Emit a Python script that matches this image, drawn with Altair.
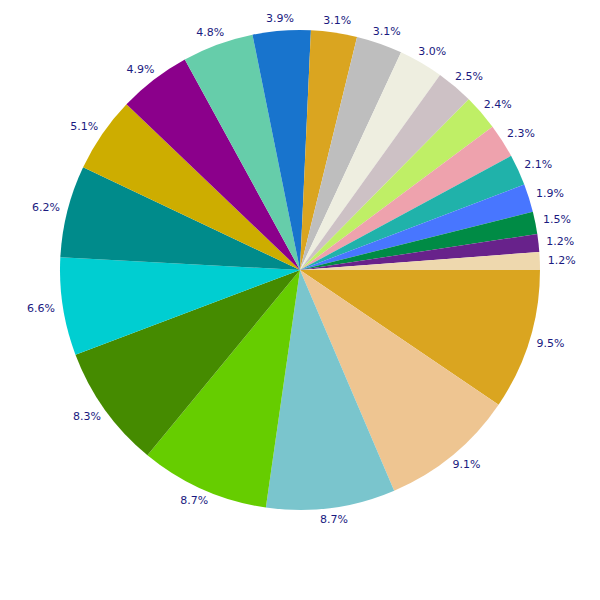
import altair as alt
import pandas as pd
import math

values = [9.5, 9.1, 8.7, 8.7, 8.3, 6.6, 6.2, 5.1, 4.9, 4.8, 3.9, 3.1, 3.1, 3.0,
          2.5, 2.4, 2.3, 2.1, 1.9, 1.5, 1.2, 1.2]
labels = ["9.5%", "9.1%", "8.7%", "8.7%", "8.3%", "6.6%", "6.2%", "5.1%", "4.9%",
          "4.8%", "3.9%", "3.1%", "3.1%", "3.0%", "2.5%", "2.4%", "2.3%", "2.1%",
          "1.9%", "1.5%", "1.2%", "1.2%"]
colors = ["#DAA520", "#EEC591", "#7AC5CD", "#66CD00", "#458B00", "#00CED1",
          "#008B8B", "#CDAD00", "#8B008B", "#66CDAA", "#1874CD", "#DAA520",
          "#BEBEBE", "#EEEEE0", "#CDC1C5", "#BFEF66", "#EEA2AD", "#20B2AA",
          "#4876FF", "#008B45", "#68228B", "#EED8AE"]

ids = [f"s{i:02d}" for i in range(len(values))]
df = pd.DataFrame({"id": ids, "value": values, "label": labels, "idx": list(range(len(values)))})

theta_scale = alt.Scale(range=[math.pi / 2, math.pi / 2 + 2 * math.pi])

pie = alt.Chart(df).mark_arc(radius=240, stroke=None).encode(
    theta=alt.Theta("value:Q", stack=True, scale=theta_scale),
    order=alt.Order("idx:Q", sort="ascending"),
    color=alt.Color("id:N", scale=alt.Scale(domain=ids, range=colors), legend=None),
    x=alt.value(292),
    y=alt.value(262),
)

text = alt.Chart(df).transform_window(
    cum="sum(value)", sort=[alt.SortField("idx")]
).transform_joinaggregate(
    total="sum(value)"
).transform_calculate(
    ang="(datum.cum - datum.value / 2) / datum.total * 2 * PI",
).transform_calculate(
    px="292 + 262 * cos(datum.ang)",
    py="262 + 252 * sin(datum.ang)",
).mark_text(font="DejaVu Sans", fontSize=11, color="#1a1a80",
            align="center", baseline="middle").encode(
    text="label:N",
    x=alt.X("px:Q", scale=None, axis=None),
    y=alt.Y("py:Q", scale=None, axis=None),
)

chart = (pie + text).properties(
    width=584, height=584, autosize=alt.AutoSizeParams(type="none"), padding=0
).configure_view(stroke=None)

chart.save("out.html", embed_options={"renderer": "svg", "actions": False})
